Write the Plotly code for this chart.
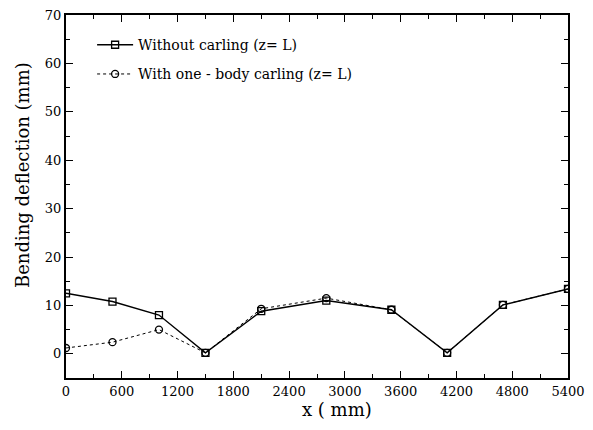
import plotly.graph_objects as go

x_mm = [0, 500, 1000, 1500, 2100, 2800, 3500, 4100, 4700, 5400]
without_carling = [12.5, 10.8, 8.0, 0.2, 8.8, 11.0, 9.1, 0.2, 10.1, 13.4]
with_carling = [1.2, 2.4, 5.0, 0.2, 9.3, 11.5, 9.1, 0.2, 10.1, 13.4]

x_ticks = [0, 600, 1200, 1800, 2400, 3000, 3600, 4200, 4800, 5400]
y_ticks = [0, 10, 20, 30, 40, 50, 60, 70]

x_title = "x ( mm)"
y_title = "Bending deflection (mm)"

serif = "DejaVu Serif"

fig = go.Figure()
fig.add_trace(go.Scatter(
    x=x_mm, y=without_carling, mode="lines+markers",
    name="Without carling (z= L)", legendgroup="a",
    line=dict(color="black", width=1.4),
    marker=dict(symbol="square-open", size=7, color="black", line=dict(width=1.3)),
))
fig.add_trace(go.Scatter(
    x=x_mm, y=with_carling, mode="lines+markers",
    name="With one - body carling (z= L)", legendgroup="b",
    line=dict(color="black", width=1, dash="dot"),
    marker=dict(symbol="circle-open", size=7, color="black", line=dict(width=1.3)),
))

axis_common = dict(
    showline=True, linecolor="black", linewidth=2, mirror="allticks",
    ticks="inside", ticklen=7, tickwidth=1.2, tickcolor="black",
    showgrid=False, zeroline=False, ticklabeloverflow="allow", automargin=False,
    tickfont=dict(family=serif, size=13, color="black"),
)

fig.update_xaxes(
    range=[0, 5400], tickvals=x_ticks,
    minor=dict(ticks="inside", dtick=300, ticklen=4, tickcolor="black", tickwidth=1.2),
    **axis_common,
)
fig.update_yaxes(
    range=[-5, 70], tickvals=y_ticks,
    minor=dict(ticks="inside", dtick=5, ticklen=4, tickcolor="black", tickwidth=1.2),
    **axis_common,
)

fig.add_annotation(
    text=x_title, xref="paper", yref="paper", x=0.54, y=-0.088,
    xanchor="center", yanchor="middle", showarrow=False,
    font=dict(family=serif, size=18, color="black"),
)
fig.add_annotation(
    text=y_title, xref="paper", yref="paper", x=0, y=0.559, xshift=-44,
    xanchor="center", yanchor="middle", textangle=-90, showarrow=False,
    font=dict(family=serif, size=18, color="black"),
)

fig.update_layout(
    width=585, height=422,
    margin=dict(l=58, r=25, t=7, b=52),
    paper_bgcolor="white", plot_bgcolor="white",
    showlegend=True,
    legend=dict(
        x=0.052, y=0.961, xanchor="left", yanchor="top",
        font=dict(family=serif, size=14, color="black"),
        bgcolor="rgba(0,0,0,0)", traceorder="grouped",
        itemwidth=36, tracegroupgap=8,
    ),
)

fig.write_html("out.html")
